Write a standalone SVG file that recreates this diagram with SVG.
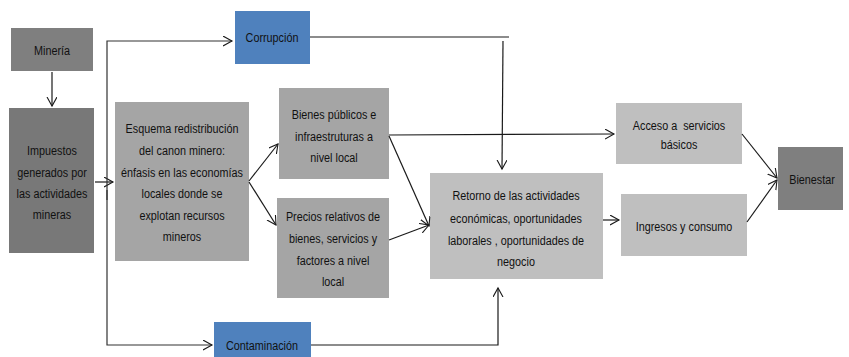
<svg xmlns="http://www.w3.org/2000/svg" width="849" height="357" viewBox="0 0 849 357">
<style>
text{font-family:"Liberation Sans",Arial,sans-serif;font-size:13.5px;fill:#111;text-anchor:middle}
.dk{fill:#7f7f7f}
.md{fill:#a5a5a5}
.lt{fill:#bfbfbf}
.bl{fill:#4f81bd}
.c{fill:none;stroke:#1a1a1a;stroke-width:1.2}
</style>
<defs>
<marker id="a" markerWidth="12" markerHeight="12" refX="9" refY="5" orient="auto" markerUnits="userSpaceOnUse">
<polyline points="0,0 9,5 0,10" fill="none" stroke="#1a1a1a" stroke-width="1.1"/>
</marker>
</defs>
<g id="mineria"><rect class="dk" x="11" y="28" width="82" height="43"/><g transform="translate(52,0) scale(0.8,1)"><text x="0" y="55">Minería</text></g></g>
<g id="impuestos"><rect x="9" y="108" width="85" height="145" style="fill:#787878"/>
<g transform="translate(52,0) scale(0.8,1)"><text x="0" y="155">Impuestos</text><text x="0" y="177">generados por</text><text x="0" y="198">las actividades</text><text x="0" y="219">mineras</text></g></g>
<g id="esquema"><rect class="md" x="115" y="102" width="134" height="159"/>
<g transform="translate(182,0) scale(0.8,1)"><text x="0" y="133">Esquema redistribución</text><text x="0" y="155">del canon minero:</text><text x="0" y="177">énfasis en las economías</text><text x="0" y="198">locales donde se</text><text x="0" y="220">explotan recursos</text><text x="0" y="241">mineros</text></g></g>
<g id="corrupcion"><rect class="bl" x="235" y="11" width="75" height="53"/><g transform="translate(272,0) scale(0.8,1)"><text x="0" y="42">Corrupción</text></g></g>
<g id="contaminacion"><rect class="bl" x="214" y="322" width="97" height="35"/><g transform="translate(262,0) scale(0.8,1)"><text x="0" y="350">Contaminación</text></g></g>
<g id="bienes"><rect class="md" x="279" y="88" width="110" height="91"/>
<g transform="translate(334,0) scale(0.8,1)"><text x="0" y="119">Bienes públicos e</text><text x="0" y="141">infraestruturas a</text><text x="0" y="162">nivel local</text></g></g>
<g id="precios"><rect class="md" x="277" y="198" width="112" height="100"/>
<g transform="translate(333,0) scale(0.8,1)"><text x="0" y="221">Precios relativos de</text><text x="0" y="243">bienes, servicios y</text><text x="0" y="265">factores a nivel</text><text x="0" y="286">local</text></g></g>
<g id="retorno"><rect class="lt" x="430" y="173" width="173" height="106"/>
<g transform="translate(516,0) scale(0.8,1)"><text x="0" y="200">Retorno de las actividades</text><text x="0" y="223">económicas, oportunidades</text><text x="0" y="245">laborales , oportunidades de</text><text x="0" y="266">negocio</text></g></g>
<g id="acceso"><rect class="lt" x="616" y="103" width="126" height="61"/>
<g transform="translate(679,0) scale(0.8,1)"><text x="0" y="130" style="white-space:pre">Acceso a  servicios</text><text x="0" y="149">básicos</text></g></g>
<g id="ingresos"><rect class="lt" x="621" y="194" width="126" height="62"/><g transform="translate(684,0) scale(0.8,1)"><text x="0" y="231">Ingresos y consumo</text></g></g>
<g id="bienestar"><rect class="dk" x="778" y="147" width="65" height="63"/><g transform="translate(812,0) scale(0.8,1)"><text x="0" y="184">Bienestar</text></g></g>
<g id="connectors">
<line class="c" x1="52" y1="72" x2="52" y2="106" marker-end="url(#a)"/>
<line class="c" x1="95" y1="182" x2="113" y2="182" marker-end="url(#a)"/>
<polyline class="c" points="107,200 107,41 232,41" marker-end="url(#a)" style="stroke:#333"/>
<polyline class="c" points="107,190 107,345 212,345" marker-end="url(#a)" style="stroke:#333"/>
<line class="c" x1="249" y1="181" x2="278" y2="144" marker-end="url(#a)"/>
<line class="c" x1="249" y1="182" x2="276" y2="225" marker-end="url(#a)"/>
<line class="c" x1="310" y1="37" x2="509" y2="37"/>
<line class="c" x1="503" y1="41" x2="502" y2="169" marker-end="url(#a)"/>
<line class="c" x1="389" y1="135" x2="614" y2="134" marker-end="url(#a)"/>
<line class="c" x1="389" y1="136" x2="429" y2="226" marker-end="url(#a)"/>
<line class="c" x1="389" y1="240" x2="429" y2="225" marker-end="url(#a)"/>
<polyline class="c" points="311,345 498,345 498,288" marker-end="url(#a)"/>
<line class="c" x1="603" y1="220" x2="619" y2="220" marker-end="url(#a)"/>
<line class="c" x1="742" y1="134" x2="777" y2="178" marker-end="url(#a)"/>
<line class="c" x1="747" y1="222" x2="777" y2="180" marker-end="url(#a)"/>
</g>
</svg>
